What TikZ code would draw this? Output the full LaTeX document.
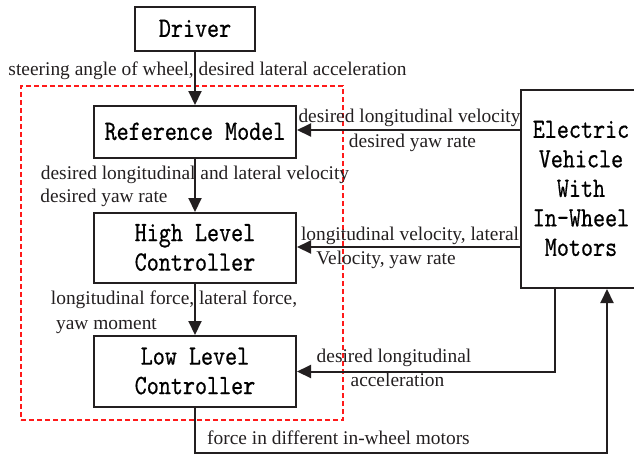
\documentclass[tikz,border=0pt]{standalone}
\usepackage{fontspec}
\setmainfont{Liberation Serif}
\usetikzlibrary{arrows.meta}

% condensed, slightly heavier typewriter face for the block labels
\newfontfamily\blockfont[FakeStretch=0.82, FakeBold=0.5]{lmmono10-regular.otf}
\newcommand{\blocktext}[1]{\raisebox{-2pt}[\height][\depth]{\fontsize{28}{29.5}\selectfont\blockfont\begin{tabular}{@{}c@{}}#1\end{tabular}}}

\definecolor{ink}{HTML}{231F20}
\definecolor{frame}{HTML}{FF1A1A}

\tikzset{
  blk/.style={draw=ink, line width=2pt, inner sep=0pt, minimum width=202pt},
  lbl/.style={font=\fontsize{19.4}{22}\selectfont, text=ink, inner sep=0pt, anchor=base},
  flow/.style={draw=ink, line width=2pt, -{Triangle[length=14pt,width=13pt]}},
  groupbox/.style={draw=frame, line width=1.6pt, dash pattern=on 5pt off 3pt, inner sep=0pt}
}

\begin{document}
\begin{tikzpicture}[x=1pt,y=-1pt]
\useasboundingbox (0,0) rectangle (634,456);

% controller group (dashed frame)
\node[groupbox, minimum width=322pt, minimum height=334pt] (ctrl) at (182,253) {};

% blocks
\node[blk, minimum width=120pt, minimum height=44pt] (drv) at (195,29) {\blocktext{Driver}};
\node[blk, minimum height=52pt] (ref) at (195,132) {\blocktext{Reference Model}};
\node[blk, minimum height=70pt] (hlc) at (195,248) {\blocktext{High Level\\Controller}};
\node[blk, minimum height=71pt] (llc) at (195,371.5) {\blocktext{Low Level\\Controller}};
\node[blk, minimum width=120pt, minimum height=198pt] (ev) at (581,189) {\blocktext{Electric\\Vehicle\\With\\In-Wheel\\Motors}};

% vertical chain
\draw[flow] (drv) -- (ref);
\draw[flow] (ref) -- (hlc);
\draw[flow] (hlc) -- (llc);

% feedback from the vehicle
\draw[flow] (ev.west |- 0,130) -- (ref.east |- 0,130);
\draw[flow] (ev.west |- 0,247) -- (hlc.east |- 0,247);
\coordinate (evtap) at ([xshift=35pt]ev.south west);
\draw[flow] (evtap) |- (llc.east);

% motor forces back to the vehicle
\coordinate (evin) at ([xshift=87pt]ev.south west);
\coordinate (bottom) at (evin |- 0,453);
\draw[flow] (llc.south) |- (bottom) -- (evin);

% signal labels
\node[lbl] (l1) at (207.5,75) {steering angle of wheel, desired lateral acceleration};
\node[lbl] (l2) at (409.5,122) {desired longitudinal velocity};
\node[lbl] (l3) at (412.5,147) {desired yaw rate};
\node[lbl] (l4) at (195,179) {desired longitudinal and lateral velocity};
\node[lbl] (l5) at (104,202) {desired yaw rate};
\node[lbl] (l6) at (410,240) {longitudinal velocity, lateral};
\node[lbl] (l7) at (386,264) {Velocity, yaw rate};
\node[lbl] (l8) at (174,304) {longitudinal force, lateral force,};
\node[lbl] (l9) at (106.5,329) {yaw moment};
\node[lbl] (l10) at (394,362) {desired longitudinal};
\node[lbl] (l11) at (397.5,386) {acceleration};
\node[lbl] (l12) at (338.5,444) {force in different in-wheel motors};
\end{tikzpicture}
\end{document}
